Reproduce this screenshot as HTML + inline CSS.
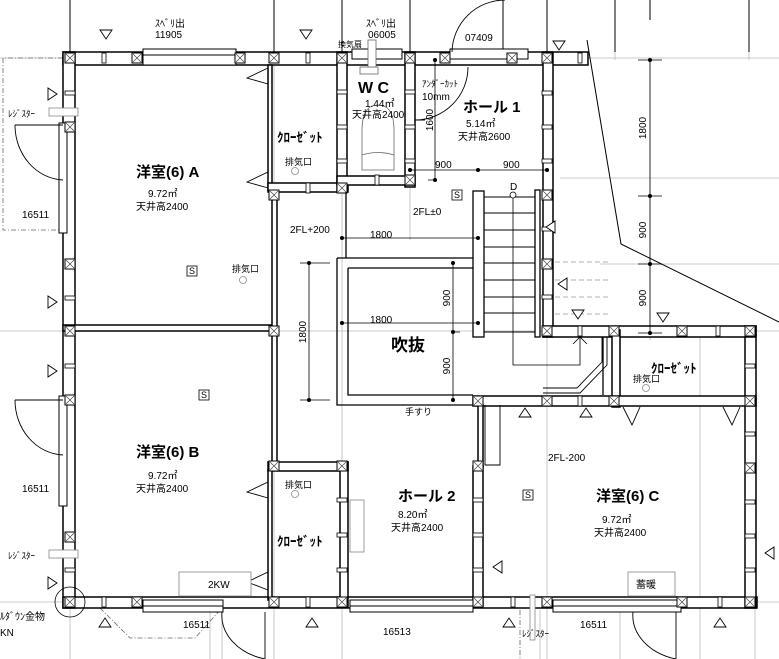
<!DOCTYPE html>
<html><head><meta charset="utf-8">
<style>
html,body{margin:0;padding:0;background:#fff;}
svg{display:block;}
text{font-family:"Liberation Sans","Noto Sans CJK JP",sans-serif;fill:#000;}
.b{font-weight:bold;}
</style></head>
<body>
<svg width="779" height="659" viewBox="0 0 779 659" xmlns="http://www.w3.org/2000/svg">
<defs>
<g id="p"><rect x="-5" y="-5" width="10" height="10" fill="#fff" stroke="#000" stroke-width="1"/><path d="M-4 -4L4 4M4 -4L-4 4" stroke="#444" stroke-width="0.7"/></g>
<g id="t"><rect x="-2" y="-5" width="4" height="10" fill="#fff" stroke="#000" stroke-width="0.8"/></g>
<g id="h"><rect x="-5" y="-2" width="10" height="4" fill="#fff" stroke="#000" stroke-width="0.8"/></g>
</defs>
<g stroke="#bbb" stroke-width="0.8" fill="none">
<path d="M70 0V659M274 0V659M342 0V659M410 0V240M503 0V60M547 0V659M615 0V60M749 0V60M650 60V340M700 330V659M755 330V659"/>
<path d="M0 58H779M0 331H779M0 602H779M560 178H779M600 264H779"/>
<path d="M210 610V659M222 610V659M540 610V659M620 610V659"/>
</g>
<g stroke="#000" stroke-width="1" fill="none">
<path d="M70 0V52M274 0V52M342 0V52M410 0V52M503 0V52M547 0V52M615 0V52M650 0V20M749 0V52"/>
</g>
<path d="M587 40L621 244L779 322" stroke="#000" stroke-width="1" fill="none"/>
<g stroke="#666" stroke-width="0.8" fill="none" stroke-dasharray="5,2,1,2">
<path d="M63 58H3V230H60"/>
<path d="M100 608L130 638H195L222 608"/>
<path d="M520 610V659"/>
</g>
<g stroke="#999" stroke-width="0.8" fill="none" stroke-dasharray="5,3">
<path d="M555 262H610M555 280H610M555 297H610M555 314H610"/>
</g>
<g fill="#fff" stroke="#000" stroke-width="1.5">
<rect x="63" y="52" width="525" height="13"/>
<rect x="63" y="52" width="12" height="556"/>
<rect x="63" y="597" width="694" height="11"/>
<rect x="745" y="326" width="11" height="282"/>
<rect x="543" y="52" width="10" height="285"/>
<rect x="543" y="326" width="213" height="11"/>
<rect x="612" y="330" width="8" height="77"/>
<rect x="473" y="396" width="283" height="10"/>
<rect x="473" y="466" width="10" height="140"/>
<rect x="478" y="405" width="5" height="62"/>
<rect x="268" y="462" width="80" height="9"/>
<rect x="340" y="462" width="8" height="145"/>
<rect x="268" y="470" width="4" height="130"/>
<rect x="63" y="325" width="212" height="6"/>
<rect x="272" y="195" width="5" height="270"/>
<rect x="268" y="65" width="4" height="125"/>
<rect x="268" y="183" width="80" height="9"/>
<rect x="337" y="52" width="10" height="140"/>
<rect x="405" y="52" width="10" height="135"/>
<rect x="337" y="176" width="78" height="9"/>
</g>
<g fill="#fff" stroke="#000" stroke-width="1">
<rect x="143" y="49" width="93" height="16"/><line x1="143" y1="55" x2="236" y2="55"/>
<rect x="59" y="123" width="8" height="110"/><rect x="59" y="396" width="8" height="110"/>
<rect x="143" y="600" width="80" height="12"/><line x1="143" y1="606" x2="223" y2="606"/>
<rect x="350" y="600" width="123" height="12"/><line x1="350" y1="606" x2="473" y2="606"/>
<rect x="553" y="600" width="128" height="12"/><line x1="553" y1="606" x2="681" y2="606"/>
<rect x="450" y="49" width="78" height="10"/>
<rect x="352" y="49" width="50" height="10"/>
</g>
<g>
<use href="#p" x="70" y="58"/><use href="#p" x="137" y="58"/><use href="#p" x="240" y="58"/><use href="#p" x="274" y="58"/><use href="#p" x="342" y="58"/><use href="#p" x="410" y="58"/><use href="#p" x="445" y="58"/><use href="#p" x="512" y="58"/><use href="#p" x="547" y="58"/>
<use href="#p" x="70" y="127"/><use href="#p" x="70" y="264"/><use href="#p" x="70" y="331"/><use href="#p" x="70" y="400"/><use href="#p" x="70" y="537"/><use href="#p" x="70" y="602"/>
<use href="#p" x="274" y="195"/><use href="#p" x="342" y="188"/><use href="#p" x="410" y="180"/><use href="#p" x="274" y="331"/>
<use href="#p" x="547" y="195"/><use href="#p" x="547" y="264"/><use href="#p" x="547" y="331"/><use href="#p" x="614" y="331"/><use href="#p" x="682" y="331"/><use href="#p" x="750" y="331"/>
<use href="#p" x="478" y="401"/><use href="#p" x="547" y="401"/><use href="#p" x="614" y="401"/><use href="#p" x="750" y="401"/><use href="#p" x="750" y="468"/>
<use href="#p" x="274" y="466"/><use href="#p" x="342" y="466"/><use href="#p" x="478" y="466"/>
<use href="#p" x="137" y="602"/><use href="#p" x="274" y="602"/><use href="#p" x="342" y="602"/><use href="#p" x="478" y="602"/><use href="#p" x="547" y="602"/><use href="#p" x="682" y="602"/><use href="#p" x="750" y="602"/>
<use href="#t" x="104" y="58"/><use href="#t" x="308" y="58"/><use href="#t" x="580" y="58"/><use href="#t" x="308" y="188"/><use href="#t" x="377" y="180"/>
<use href="#t" x="104" y="602"/><use href="#t" x="308" y="602"/><use href="#t" x="513" y="602"/><use href="#t" x="720" y="602"/><use href="#t" x="580" y="331"/><use href="#t" x="718" y="331"/><use href="#t" x="580" y="401"/>
<use href="#h" x="70" y="93"/><use href="#h" x="70" y="298"/><use href="#h" x="70" y="366"/><use href="#h" x="70" y="570"/>
<use href="#h" x="342" y="92"/><use href="#h" x="342" y="127"/><use href="#h" x="342" y="161"/><use href="#h" x="410" y="92"/><use href="#h" x="410" y="127"/><use href="#h" x="410" y="161"/>
<use href="#h" x="547" y="93"/><use href="#h" x="547" y="127"/><use href="#h" x="547" y="161"/><use href="#h" x="547" y="229"/><use href="#h" x="547" y="297"/>
<use href="#h" x="750" y="366"/><use href="#h" x="750" y="434"/><use href="#h" x="750" y="502"/><use href="#h" x="750" y="536"/><use href="#h" x="750" y="570"/>
<use href="#h" x="342" y="500"/><use href="#h" x="342" y="535"/><use href="#h" x="342" y="570"/><use href="#h" x="478" y="500"/><use href="#h" x="478" y="535"/><use href="#h" x="478" y="570"/>
</g>
<g fill="none" stroke="#000" stroke-width="1.3">
<path d="M337 258H473M337 258V405H473M348 268H473M348 268V395H473"/>
<path d="M346 192V258"/>
<rect x="473" y="191" width="11" height="146" fill="#fff"/>
<rect x="535" y="190" width="5" height="147" fill="#fff"/>
<path d="M484 197H535M484 213H535M484 230H535M484 247H535M484 263H535M484 280H535M484 297H535M484 313H535M484 332H535" stroke-width="0.9"/>
<path d="M513 195V365H580V337M573 344L580 337L587 344" stroke-width="0.8"/>
<circle cx="513" cy="195" r="3" fill="#fff" stroke-width="0.8"/>
<path d="M543 388H577L602 362V337M543 393H580L607 365V337" stroke-width="0.9"/>
<path d="M603 337V395"/>
<path d="M485 405V465H500V405" stroke-width="0.9"/>
</g>
<g fill="#fff" stroke="#666" stroke-width="0.8">
<path d="M362 170V130Q362 105 378 105Q394 105 394 130V170Z"/>
<path d="M362 155Q378 150 394 155"/>
<rect x="360" y="67" width="18" height="7"/>
<rect x="368" y="40" width="8" height="27"/>
</g>
<g fill="none" stroke="#000" stroke-width="0.9">
<path d="M15 125A50 55 0 0 0 63 180M15 125H63"/>
<path d="M15 400A50 55 0 0 0 63 455M15 400H63"/>
<path d="M452 52A53 53 0 0 1 505 0"/>
<path d="M468 67A53 53 0 0 1 415 120M415 120H425"/>
<path d="M222 612A58 45 0 0 0 265 659"/>
<path d="M633 612A58 45 0 0 0 676 659"/>
<path d="M265 612V659M676 612V659"/>
</g>
<g fill="none" stroke="#000" stroke-width="0.9">
<path d="M268 68L247 78L268 84"/><path d="M268 172L247 182L268 188"/>
<path d="M268 482L247 492L268 498"/><path d="M268 572L247 582L268 590"/>
<path d="M623 407L632 425L640 407"/><path d="M723 407L732 425L740 407"/>
</g>
<g fill="#fff" stroke="#000" stroke-width="0.9">
<path d="M100 30H112L106 39Z"/><path d="M300 30H312L306 39Z"/><path d="M553 41H565L559 50Z"/>
<path d="M572 310H584L578 319Z"/><path d="M657 313H669L663 322Z"/>
<path d="M555 221V233L546 227Z"/><path d="M567 278V290L558 284Z"/>
<path d="M48 88V100L57 94Z"/><path d="M48 296V308L57 302Z"/><path d="M48 365V377L57 371Z"/><path d="M48 577V589L57 583Z"/>
<path d="M99 627H111L105 618Z"/><path d="M306 627H318L312 618Z"/><path d="M503 627H515L509 618Z"/><path d="M714 627H726L720 618Z"/>
<path d="M519 417H531L525 408Z"/><path d="M580 417H592L586 408Z"/>
<path d="M502 561V573L493 567Z"/><path d="M774 547V559L765 553Z"/>
</g>
<g fill="#fff" stroke="#888" stroke-width="0.8">
<rect x="49" y="108" width="29" height="8"/><rect x="49" y="550" width="29" height="8"/>
<rect x="179" y="572" width="72" height="24"/><rect x="628" y="572" width="47" height="24"/>
<rect x="350" y="500" width="14" height="52"/><rect x="530" y="595" width="5" height="45"/>
<circle cx="295" cy="171" r="3.5"/><circle cx="243" cy="280" r="3.5"/><circle cx="295" cy="494" r="3.5"/><circle cx="646" cy="388" r="3.5"/>
<circle cx="70" cy="602" r="15" fill="none" stroke="#000"/>
</g>
<g fill="#fff" stroke="#000" stroke-width="0.8">
<rect x="187" y="266" width="10" height="10"/><rect x="199" y="390" width="10" height="10"/><rect x="452" y="190" width="10" height="10"/><rect x="523" y="490" width="10" height="10"/>
</g>
<g stroke="#000" stroke-width="0.8" fill="none">
<path d="M650 60V333M638 60H662M638 196H662M638 264H662M638 333H662"/>
<path d="M309 263V400M300 263H330M300 400H330"/>
<path d="M453 263V400M453 332H460"/>
<path d="M342 238H478M342 323H478"/>
<path d="M410 170H547M435 60V180M428 180H435"/>
</g>
<g fill="#000">
<circle cx="650" cy="60" r="2"/><circle cx="650" cy="196" r="2"/><circle cx="650" cy="264" r="2"/><circle cx="650" cy="333" r="2"/>
<circle cx="309" cy="263" r="2"/><circle cx="309" cy="400" r="2"/><circle cx="453" cy="263" r="2"/><circle cx="453" cy="332" r="2"/><circle cx="453" cy="400" r="2"/>
<circle cx="342" cy="238" r="2"/><circle cx="478" cy="238" r="2"/><circle cx="342" cy="323" r="2"/><circle cx="478" cy="323" r="2"/>
<circle cx="410" cy="170" r="2"/><circle cx="478" cy="170" r="2"/><circle cx="547" cy="170" r="2"/><circle cx="435" cy="60" r="2"/><circle cx="435" cy="180" r="2"/>
</g>
<g font-size="10">
<text x="155" y="27">ｽﾍﾞﾘ出</text><text x="155" y="38">11905</text>
<text x="366" y="27">ｽﾍﾞﾘ出</text><text x="368" y="38">06005</text>
<text x="338" y="47" font-size="8">換気扇</text>
<text x="465" y="41">07409</text>
<text x="8" y="117" font-size="9">ﾚｼﾞｽﾀｰ</text><text x="8" y="559" font-size="9">ﾚｼﾞｽﾀｰ</text>
<text x="22" y="218">16511</text><text x="22" y="492">16511</text>
<text x="183" y="628">16511</text><text x="383" y="635">16513</text><text x="580" y="628">16511</text>
<text x="522" y="637" font-size="9">ﾚｼﾞｽﾀｰ</text>
<text x="0" y="620" font-size="10">ﾙﾀﾞｳﾝ金物</text><text x="0" y="636">KN</text>
<text x="290" y="233">2FL+200</text><text x="413" y="215">2FL±0</text><text x="548" y="461">2FL-200</text>
<text x="370" y="238">1800</text><text x="370" y="323">1800</text>
<text x="435" y="168">900</text><text x="503" y="168">900</text>
<text x="510" y="190">D</text>
<text x="405" y="415" font-size="9">手すり</text>
<text x="208" y="588">2KW</text><text x="636" y="588">蓄暖</text>
<text x="189" y="274" font-size="9">S</text><text x="201" y="398" font-size="9">S</text><text x="454" y="198" font-size="9">S</text><text x="525" y="498" font-size="9">S</text>
<text x="422" y="87" font-size="9">ｱﾝﾀﾞｰｶｯﾄ</text><text x="422" y="100">10mm</text>
<text x="285" y="165" font-size="9">排気口</text><text x="232" y="272" font-size="9">排気口</text><text x="285" y="488" font-size="9">排気口</text><text x="633" y="382" font-size="9">排気口</text>
</g>
<g font-size="15" class="b">
<text x="136" y="177">洋室(6) A</text><text x="136" y="457">洋室(6) B</text><text x="596" y="501">洋室(6) C</text>
<text x="358" y="93" font-size="16">W C</text>
<text x="463" y="112">ホール 1</text><text x="398" y="501">ホール 2</text>
<text x="391" y="351" font-size="17">吹抜</text>
<text x="277" y="142" font-size="13">ｸﾛｰｾﾞｯﾄ</text><text x="277" y="546" font-size="13">ｸﾛｰｾﾞｯﾄ</text><text x="651" y="373" font-size="13">ｸﾛｰｾﾞｯﾄ</text>
</g>
<g font-size="10">
<text x="148" y="197">9.72㎡</text><text x="136" y="210">天井高2400</text>
<text x="148" y="479">9.72㎡</text><text x="136" y="492">天井高2400</text>
<text x="602" y="523">9.72㎡</text><text x="594" y="536">天井高2400</text>
<text x="398" y="518">8.20㎡</text><text x="391" y="531">天井高2400</text>
<text x="466" y="127">5.14㎡</text><text x="458" y="140">天井高2600</text>
<text x="365" y="107">1.44㎡</text><text x="352" y="118">天井高2400</text>
</g>
<g font-size="10">
<text transform="translate(646,128) rotate(-90)" text-anchor="middle">1800</text>
<text transform="translate(646,230) rotate(-90)" text-anchor="middle">900</text>
<text transform="translate(646,298) rotate(-90)" text-anchor="middle">900</text>
<text transform="translate(306,332) rotate(-90)" text-anchor="middle">1800</text>
<text transform="translate(450,298) rotate(-90)" text-anchor="middle">900</text>
<text transform="translate(450,366) rotate(-90)" text-anchor="middle">900</text>
<text transform="translate(433,120) rotate(-90)" text-anchor="middle">1600</text>
</g>
</svg>
</body></html>
